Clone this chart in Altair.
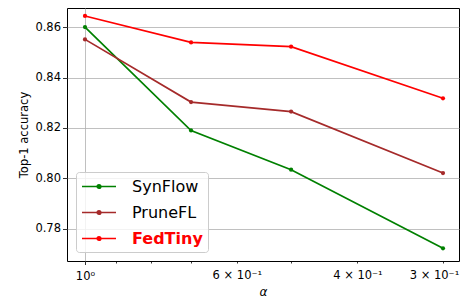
import altair as alt
import pandas as pd

# ---- data ----
alphas = [1.0, 0.7, 0.5, 0.3]
methods = ["SynFlow", "PruneFL", "FedTiny"]
synflow = [0.8601, 0.8190, 0.8034, 0.7722]
prunefl = [0.8552, 0.8303, 0.8265, 0.8021]
fedtiny = [0.8645, 0.8540, 0.8523, 0.8318]
colors = ["#008000", "#a52a2a", "#ff0000"]

x_ticks = [1.0, 0.9, 0.8, 0.7, 0.6, 0.5, 0.4, 0.3]
x_tick_labels = {1.0: "10⁰", 0.6: "6 × 10⁻¹", 0.4: "4 × 10⁻¹", 0.3: "3 × 10⁻¹"}
y_ticks = [0.78, 0.80, 0.82, 0.84, 0.86]

rows = []
for m, vals in zip(methods, [synflow, prunefl, fedtiny]):
    for a, v in zip(alphas, vals):
        rows.append({"alpha": a, "acc": v, "method": m})
df = pd.DataFrame(rows)

label_expr = ""
for v, t in x_tick_labels.items():
    label_expr += f"abs(datum.value - {v}) < 1e-6 ? '{t}' : "
label_expr += "''"

FONT = "DejaVu Sans"

legend_path = (
    "M-1,0L3,0"
    "M1.088,0A0.088,0.088,0,1,1,0.912,0A0.088,0.088,0,1,1,1.088,0"
    "M1.206,0A0.206,0.206,0,1,1,0.794,0A0.206,0.206,0,1,1,1.206,0"
)

legend = alt.Legend(
    title=None,
    orient="bottom-left",
    offset=9,
    symbolType=legend_path,
    symbolSize=289,
    symbolStrokeWidth=1.7,
    labelOffset=32,
    labelFont=FONT,
    labelFontSize=16,
    labelColor={"expr": "datum.label == 'FedTiny' ? '#ff0000' : '#000000'"},
    labelFontWeight={"expr": "datum.label == 'FedTiny' ? 'bold' : 'normal'"},
    rowPadding=8,
    padding=5,
    fillColor="rgba(255,255,255,0.8)",
    strokeColor="#cccccc",
    cornerRadius=3,
    labelLimit=200,
)

x_enc = alt.X(
    "alpha:Q",
    scale=alt.Scale(type="log", domain=[0.28426, 1.0624], reverse=True, nice=False),
    axis=alt.Axis(
        values=x_ticks,
        labelExpr=label_expr,
        title="α",
        titleFontStyle="italic",
        titleFont=FONT,
        titleFontSize=12,
        titleFontWeight="normal",
        titlePadding=4,
        labelFont=FONT,
        labelFontSize=11.5,
        labelColor="#000000",
        labelPadding=6,
        labelOffset={"condition": {"test": "datum.value == 0.3", "value": -9}, "value": 0},
        labelFlush=False,
        labelOverlap=False,
        grid=True,
        gridColor="#b0b0b0",
        gridWidth=0.8,
        gridOpacity={"condition": {"test": "datum.value == 1", "value": 1}, "value": 0},
        tickSize={"condition": {"test": "datum.value == 1", "value": 3.5}, "value": 2},
        tickColor="#000000",
        tickWidth=0.8,
        domain=False,
    ),
)

y_enc = alt.Y(
    "acc:Q",
    scale=alt.Scale(domain=[0.76714, 0.86767], nice=False, zero=False),
    axis=alt.Axis(
        values=y_ticks,
        format=".2f",
        title="Top-1 accuracy",
        titleFont=FONT,
        titleFontSize=11.5,
        titleFontWeight="normal",
        titlePadding=5.5,
        labelFont=FONT,
        labelFontSize=11.5,
        labelColor="#000000",
        labelPadding=2,
        grid=True,
        gridColor="#b0b0b0",
        gridWidth=0.8,
        tickSize=4.5,
        tickColor="#000000",
        tickWidth=0.8,
        domain=False,
    ),
)

color_enc = alt.Color(
    "method:N",
    scale=alt.Scale(domain=methods, range=colors),
    sort=methods,
    legend=legend,
)

base = alt.Chart(df).encode(x=x_enc, y=y_enc, color=color_enc)
lines = base.mark_line(strokeWidth=1.7)
points = base.mark_point(filled=True, size=18, opacity=1)

chart = (
    alt.layer(lines, points)
    .properties(
        width=392,
        height=253,
        autosize=alt.AutoSizeParams(type="none"),
        padding={"left": 59, "top": 0, "right": 1, "bottom": 39},
    )
    .configure_view(stroke="#000000", strokeWidth=1)
)

chart.save("out.html", embed_options={"renderer": "svg", "actions": False})
